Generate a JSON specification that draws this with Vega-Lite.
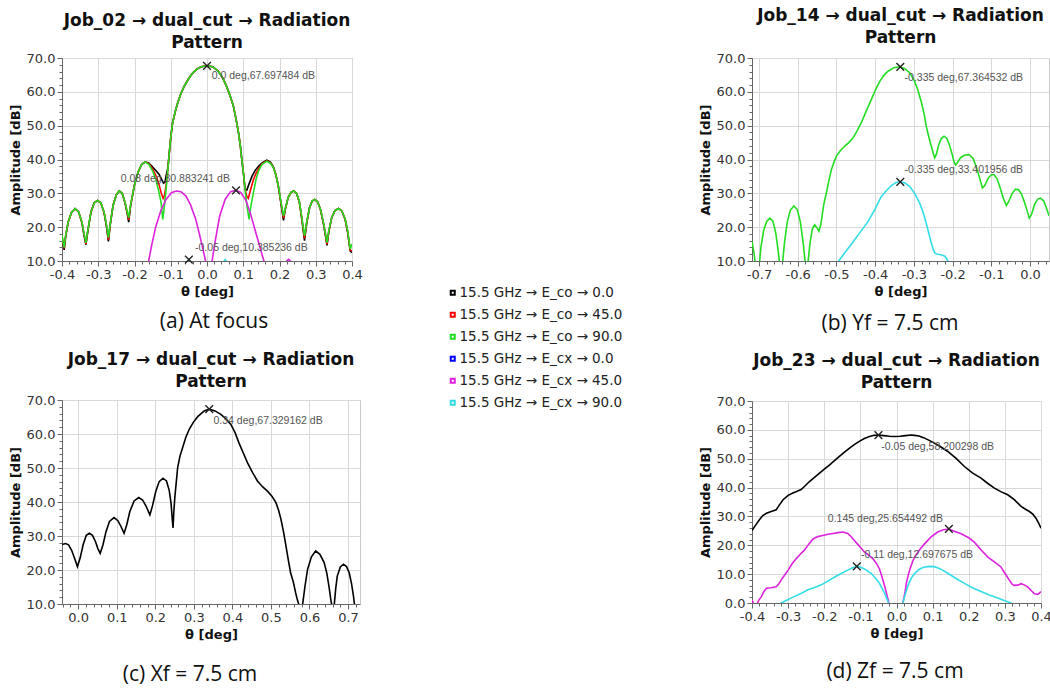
{
"$schema": "https://vega.github.io/schema/vega-lite/v6.json",
"background": "white",
"padding": {"left": 8, "top": 6, "right": 0, "bottom": 0},
"datasets": {
"a": [
{"s":"co0","t":-0.4,"v":17.2},{"s":"co0","t":-0.397,"v":15},{"s":"co0","t":-0.394,"v":13.3},{"s":"co0","t":-0.39,"v":17.2},{"s":"co0","t":-0.383,"v":21.5},{"s":"co0","t":-0.374,"v":24.3},{"s":"co0","t":-0.364,"v":25.5},{"s":"co0","t":-0.354,"v":24.5},{"s":"co0","t":-0.345,"v":21.3},{"s":"co0","t":-0.339,"v":17.5},{"s":"co0","t":-0.334,"v":14.8},{"s":"co0","t":-0.329,"v":18.7},{"s":"co0","t":-0.32,"v":24.5},{"s":"co0","t":-0.311,"v":27.2},{"s":"co0","t":-0.302,"v":27.9},{"s":"co0","t":-0.293,"v":27.2},{"s":"co0","t":-0.284,"v":24.3},{"s":"co0","t":-0.277,"v":20},{"s":"co0","t":-0.272,"v":15.8},{"s":"co0","t":-0.267,"v":20.7},{"s":"co0","t":-0.259,"v":26.5},{"s":"co0","t":-0.25,"v":29.6},{"s":"co0","t":-0.242,"v":30.7},{"s":"co0","t":-0.234,"v":30},{"s":"co0","t":-0.226,"v":27.1},{"s":"co0","t":-0.22,"v":24},{"s":"co0","t":-0.216,"v":21.5},{"s":"co0","t":-0.211,"v":26.2},{"s":"co0","t":-0.2,"v":32.5},{"s":"co0","t":-0.19,"v":36.3},{"s":"co0","t":-0.18,"v":38.6},{"s":"co0","t":-0.17,"v":39.3},{"s":"co0","t":-0.16,"v":38.9},{"s":"co0","t":-0.15,"v":37.8},{"s":"co0","t":-0.14,"v":36.6},{"s":"co0","t":-0.132,"v":35.6},{"s":"co0","t":-0.126,"v":34.3},{"s":"co0","t":-0.12,"v":33},{"s":"co0","t":-0.116,"v":33.3},{"s":"co0","t":-0.112,"v":35.5},{"s":"co0","t":-0.108,"v":37.5},{"s":"co0","t":-0.104,"v":42},{"s":"co0","t":-0.1,"v":46.5},{"s":"co0","t":-0.095,"v":50.8},{"s":"co0","t":-0.088,"v":54},{"s":"co0","t":-0.081,"v":56.7},{"s":"co0","t":-0.072,"v":59.5},{"s":"co0","t":-0.062,"v":61.8},{"s":"co0","t":-0.05,"v":64},{"s":"co0","t":-0.039,"v":65.6},{"s":"co0","t":-0.027,"v":66.8},{"s":"co0","t":-0.016,"v":67.4},{"s":"co0","t":0,"v":67.7},{"s":"co0","t":0.016,"v":67.4},{"s":"co0","t":0.031,"v":66.1},{"s":"co0","t":0.043,"v":64.2},{"s":"co0","t":0.054,"v":61.6},{"s":"co0","t":0.064,"v":58.8},{"s":"co0","t":0.073,"v":55.7},{"s":"co0","t":0.08,"v":52},{"s":"co0","t":0.087,"v":47.9},{"s":"co0","t":0.092,"v":44},{"s":"co0","t":0.096,"v":40},{"s":"co0","t":0.101,"v":35.5},{"s":"co0","t":0.105,"v":31.2},{"s":"co0","t":0.11,"v":31},{"s":"co0","t":0.115,"v":32.5},{"s":"co0","t":0.124,"v":35},{"s":"co0","t":0.133,"v":36.8},{"s":"co0","t":0.142,"v":38},{"s":"co0","t":0.152,"v":39},{"s":"co0","t":0.165,"v":39.8},{"s":"co0","t":0.175,"v":39.2},{"s":"co0","t":0.183,"v":37.8},{"s":"co0","t":0.19,"v":35.5},{"s":"co0","t":0.197,"v":32},{"s":"co0","t":0.204,"v":27},{"s":"co0","t":0.211,"v":22},{"s":"co0","t":0.216,"v":25.3},{"s":"co0","t":0.224,"v":28.8},{"s":"co0","t":0.232,"v":30.3},{"s":"co0","t":0.239,"v":30.7},{"s":"co0","t":0.247,"v":30},{"s":"co0","t":0.255,"v":27.3},{"s":"co0","t":0.262,"v":22},{"s":"co0","t":0.269,"v":16},{"s":"co0","t":0.275,"v":21.2},{"s":"co0","t":0.283,"v":25.8},{"s":"co0","t":0.29,"v":27.7},{"s":"co0","t":0.297,"v":28.2},{"s":"co0","t":0.305,"v":27.5},{"s":"co0","t":0.313,"v":25.2},{"s":"co0","t":0.321,"v":21.2},{"s":"co0","t":0.326,"v":18},{"s":"co0","t":0.331,"v":14.6},{"s":"co0","t":0.336,"v":18.6},{"s":"co0","t":0.344,"v":22.8},{"s":"co0","t":0.353,"v":24.9},{"s":"co0","t":0.363,"v":25.5},{"s":"co0","t":0.372,"v":24.8},{"s":"co0","t":0.381,"v":22.3},{"s":"co0","t":0.388,"v":18.5},{"s":"co0","t":0.395,"v":13},{"s":"co0","t":0.4,"v":12.5},
{"s":"co45","t":-0.4,"v":17.4},{"s":"co45","t":-0.397,"v":15.2},{"s":"co45","t":-0.394,"v":13.7},{"s":"co45","t":-0.39,"v":17.3},{"s":"co45","t":-0.383,"v":21.5},{"s":"co45","t":-0.374,"v":24.3},{"s":"co45","t":-0.364,"v":25.5},{"s":"co45","t":-0.354,"v":24.5},{"s":"co45","t":-0.345,"v":21.4},{"s":"co45","t":-0.339,"v":17.8},{"s":"co45","t":-0.334,"v":15},{"s":"co45","t":-0.329,"v":18.8},{"s":"co45","t":-0.32,"v":24.5},{"s":"co45","t":-0.311,"v":27.2},{"s":"co45","t":-0.302,"v":27.9},{"s":"co45","t":-0.293,"v":27.2},{"s":"co45","t":-0.284,"v":24.4},{"s":"co45","t":-0.277,"v":20.3},{"s":"co45","t":-0.272,"v":16.3},{"s":"co45","t":-0.267,"v":20.8},{"s":"co45","t":-0.259,"v":26.5},{"s":"co45","t":-0.25,"v":29.6},{"s":"co45","t":-0.242,"v":30.7},{"s":"co45","t":-0.234,"v":30},{"s":"co45","t":-0.226,"v":27.2},{"s":"co45","t":-0.22,"v":24.3},{"s":"co45","t":-0.216,"v":22.2},{"s":"co45","t":-0.211,"v":26.3},{"s":"co45","t":-0.2,"v":32.5},{"s":"co45","t":-0.19,"v":36.3},{"s":"co45","t":-0.18,"v":38.6},{"s":"co45","t":-0.17,"v":39.3},{"s":"co45","t":-0.16,"v":38.7},{"s":"co45","t":-0.15,"v":37.2},{"s":"co45","t":-0.14,"v":35},{"s":"co45","t":-0.132,"v":32.5},{"s":"co45","t":-0.126,"v":30},{"s":"co45","t":-0.121,"v":28.5},{"s":"co45","t":-0.117,"v":29.5},{"s":"co45","t":-0.112,"v":33},{"s":"co45","t":-0.108,"v":37},{"s":"co45","t":-0.104,"v":42},{"s":"co45","t":-0.1,"v":46.5},{"s":"co45","t":-0.095,"v":50.8},{"s":"co45","t":-0.088,"v":54},{"s":"co45","t":-0.081,"v":56.7},{"s":"co45","t":-0.072,"v":59.5},{"s":"co45","t":-0.062,"v":61.8},{"s":"co45","t":-0.05,"v":64},{"s":"co45","t":-0.039,"v":65.6},{"s":"co45","t":-0.027,"v":66.8},{"s":"co45","t":-0.016,"v":67.4},{"s":"co45","t":0,"v":67.7},{"s":"co45","t":0.016,"v":67.4},{"s":"co45","t":0.031,"v":66.1},{"s":"co45","t":0.043,"v":64.2},{"s":"co45","t":0.054,"v":61.6},{"s":"co45","t":0.064,"v":58.8},{"s":"co45","t":0.073,"v":55.7},{"s":"co45","t":0.08,"v":52},{"s":"co45","t":0.087,"v":47.9},{"s":"co45","t":0.092,"v":44},{"s":"co45","t":0.096,"v":40},{"s":"co45","t":0.101,"v":35.5},{"s":"co45","t":0.105,"v":31.2},{"s":"co45","t":0.11,"v":29},{"s":"co45","t":0.114,"v":28.5},{"s":"co45","t":0.12,"v":31},{"s":"co45","t":0.128,"v":34},{"s":"co45","t":0.135,"v":35.8},{"s":"co45","t":0.142,"v":37.2},{"s":"co45","t":0.152,"v":38.8},{"s":"co45","t":0.165,"v":39.6},{"s":"co45","t":0.175,"v":39},{"s":"co45","t":0.183,"v":37.7},{"s":"co45","t":0.19,"v":35.5},{"s":"co45","t":0.197,"v":32},{"s":"co45","t":0.204,"v":27.2},{"s":"co45","t":0.211,"v":22.7},{"s":"co45","t":0.216,"v":25.4},{"s":"co45","t":0.224,"v":28.8},{"s":"co45","t":0.232,"v":30.3},{"s":"co45","t":0.239,"v":30.7},{"s":"co45","t":0.247,"v":30},{"s":"co45","t":0.255,"v":27.4},{"s":"co45","t":0.262,"v":22.2},{"s":"co45","t":0.269,"v":16.7},{"s":"co45","t":0.275,"v":21.3},{"s":"co45","t":0.283,"v":25.8},{"s":"co45","t":0.29,"v":27.7},{"s":"co45","t":0.297,"v":28.2},{"s":"co45","t":0.305,"v":27.5},{"s":"co45","t":0.313,"v":25.2},{"s":"co45","t":0.321,"v":21.3},{"s":"co45","t":0.326,"v":18.2},{"s":"co45","t":0.331,"v":15},{"s":"co45","t":0.336,"v":18.8},{"s":"co45","t":0.344,"v":22.8},{"s":"co45","t":0.353,"v":24.9},{"s":"co45","t":0.363,"v":25.5},{"s":"co45","t":0.372,"v":24.8},{"s":"co45","t":0.381,"v":22.4},{"s":"co45","t":0.388,"v":18.7},{"s":"co45","t":0.395,"v":13.2},{"s":"co45","t":0.4,"v":13},
{"s":"co90","t":-0.4,"v":17.6},{"s":"co90","t":-0.397,"v":15.5},{"s":"co90","t":-0.394,"v":14},{"s":"co90","t":-0.39,"v":17.5},{"s":"co90","t":-0.383,"v":21.5},{"s":"co90","t":-0.374,"v":24.3},{"s":"co90","t":-0.364,"v":25.5},{"s":"co90","t":-0.354,"v":24.5},{"s":"co90","t":-0.345,"v":21.5},{"s":"co90","t":-0.339,"v":18},{"s":"co90","t":-0.334,"v":15.4},{"s":"co90","t":-0.329,"v":19},{"s":"co90","t":-0.32,"v":24.5},{"s":"co90","t":-0.311,"v":27.2},{"s":"co90","t":-0.302,"v":27.9},{"s":"co90","t":-0.293,"v":27.2},{"s":"co90","t":-0.284,"v":24.5},{"s":"co90","t":-0.277,"v":20.5},{"s":"co90","t":-0.272,"v":16.9},{"s":"co90","t":-0.267,"v":21},{"s":"co90","t":-0.259,"v":26.5},{"s":"co90","t":-0.25,"v":29.6},{"s":"co90","t":-0.242,"v":30.7},{"s":"co90","t":-0.234,"v":30},{"s":"co90","t":-0.226,"v":27.3},{"s":"co90","t":-0.22,"v":24.5},{"s":"co90","t":-0.216,"v":22.8},{"s":"co90","t":-0.211,"v":26.5},{"s":"co90","t":-0.2,"v":32.5},{"s":"co90","t":-0.19,"v":36.3},{"s":"co90","t":-0.18,"v":38.6},{"s":"co90","t":-0.17,"v":39.3},{"s":"co90","t":-0.16,"v":38.5},{"s":"co90","t":-0.15,"v":36.6},{"s":"co90","t":-0.141,"v":34},{"s":"co90","t":-0.133,"v":30.5},{"s":"co90","t":-0.127,"v":27.5},{"s":"co90","t":-0.122,"v":22.3},{"s":"co90","t":-0.118,"v":26},{"s":"co90","t":-0.113,"v":31},{"s":"co90","t":-0.108,"v":37},{"s":"co90","t":-0.104,"v":42},{"s":"co90","t":-0.1,"v":46.5},{"s":"co90","t":-0.095,"v":50.8},{"s":"co90","t":-0.088,"v":54},{"s":"co90","t":-0.081,"v":56.7},{"s":"co90","t":-0.072,"v":59.5},{"s":"co90","t":-0.062,"v":61.8},{"s":"co90","t":-0.05,"v":64},{"s":"co90","t":-0.039,"v":65.6},{"s":"co90","t":-0.027,"v":66.8},{"s":"co90","t":-0.016,"v":67.4},{"s":"co90","t":0,"v":67.7},{"s":"co90","t":0.016,"v":67.4},{"s":"co90","t":0.031,"v":66.1},{"s":"co90","t":0.043,"v":64.2},{"s":"co90","t":0.054,"v":61.6},{"s":"co90","t":0.064,"v":58.8},{"s":"co90","t":0.073,"v":55.7},{"s":"co90","t":0.08,"v":52},{"s":"co90","t":0.087,"v":47.9},{"s":"co90","t":0.092,"v":44},{"s":"co90","t":0.096,"v":40},{"s":"co90","t":0.101,"v":35.5},{"s":"co90","t":0.105,"v":31.2},{"s":"co90","t":0.11,"v":26.5},{"s":"co90","t":0.116,"v":22.3},{"s":"co90","t":0.12,"v":25.5},{"s":"co90","t":0.128,"v":30.2},{"s":"co90","t":0.135,"v":34},{"s":"co90","t":0.142,"v":36.6},{"s":"co90","t":0.152,"v":38.6},{"s":"co90","t":0.165,"v":39.5},{"s":"co90","t":0.175,"v":38.9},{"s":"co90","t":0.183,"v":37.6},{"s":"co90","t":0.19,"v":35.5},{"s":"co90","t":0.197,"v":32.1},{"s":"co90","t":0.204,"v":27.5},{"s":"co90","t":0.211,"v":23.3},{"s":"co90","t":0.216,"v":25.5},{"s":"co90","t":0.224,"v":28.8},{"s":"co90","t":0.232,"v":30.3},{"s":"co90","t":0.239,"v":30.7},{"s":"co90","t":0.247,"v":30},{"s":"co90","t":0.255,"v":27.5},{"s":"co90","t":0.262,"v":22.5},{"s":"co90","t":0.269,"v":17.4},{"s":"co90","t":0.275,"v":21.5},{"s":"co90","t":0.283,"v":25.8},{"s":"co90","t":0.29,"v":27.7},{"s":"co90","t":0.297,"v":28.2},{"s":"co90","t":0.305,"v":27.5},{"s":"co90","t":0.313,"v":25.3},{"s":"co90","t":0.321,"v":21.5},{"s":"co90","t":0.326,"v":18.5},{"s":"co90","t":0.331,"v":15.4},{"s":"co90","t":0.336,"v":19},{"s":"co90","t":0.344,"v":22.8},{"s":"co90","t":0.353,"v":24.9},{"s":"co90","t":0.363,"v":25.5},{"s":"co90","t":0.372,"v":24.8},{"s":"co90","t":0.381,"v":22.5},{"s":"co90","t":0.388,"v":19},{"s":"co90","t":0.395,"v":13.5},{"s":"co90","t":0.4,"v":15},
{"s":"cx45","t":-0.2,"v":-5},{"s":"cx45","t":-0.175,"v":3},{"s":"cx45","t":-0.161,"v":10},{"s":"cx45","t":-0.152,"v":15},{"s":"cx45","t":-0.141,"v":20.3},{"s":"cx45","t":-0.127,"v":25},{"s":"cx45","t":-0.113,"v":28.2},{"s":"cx45","t":-0.098,"v":30.2},{"s":"cx45","t":-0.085,"v":30.7},{"s":"cx45","t":-0.072,"v":30.5},{"s":"cx45","t":-0.058,"v":29.2},{"s":"cx45","t":-0.045,"v":26.5},{"s":"cx45","t":-0.031,"v":22.3},{"s":"cx45","t":-0.021,"v":18},{"s":"cx45","t":-0.013,"v":14.4},{"s":"cx45","t":-0.004,"v":10},{"s":"cx45","t":0.005,"v":3},{"s":"cx45","t":0.014,"v":10},{"s":"cx45","t":0.022,"v":15.5},{"s":"cx45","t":0.035,"v":23.3},{"s":"cx45","t":0.05,"v":28.2},{"s":"cx45","t":0.065,"v":30.5},{"s":"cx45","t":0.079,"v":30.9},{"s":"cx45","t":0.093,"v":30.3},{"s":"cx45","t":0.107,"v":28},{"s":"cx45","t":0.12,"v":24},{"s":"cx45","t":0.133,"v":19},{"s":"cx45","t":0.145,"v":14.5},{"s":"cx45","t":0.157,"v":10},{"s":"cx45","t":0.17,"v":3},{"s":"cx45","t":0.19,"v":2},{"s":"cx45","t":0.205,"v":6},{"s":"cx45","t":0.215,"v":9.5},{"s":"cx45","t":0.225,"v":10.5},{"s":"cx45","t":0.235,"v":9.5},{"s":"cx45","t":0.25,"v":5},
{"s":"cx90","t":-0.09,"v":0},{"s":"cx90","t":-0.075,"v":5},{"s":"cx90","t":-0.063,"v":8.5},{"s":"cx90","t":-0.05,"v":10.4},{"s":"cx90","t":-0.037,"v":8.5},{"s":"cx90","t":-0.025,"v":5},{"s":"cx90","t":-0.01,"v":0},{"s":"cx90","t":0.01,"v":0},{"s":"cx90","t":0.025,"v":5},{"s":"cx90","t":0.037,"v":8.5},{"s":"cx90","t":0.05,"v":10.4},{"s":"cx90","t":0.063,"v":8.5},{"s":"cx90","t":0.075,"v":5},{"s":"cx90","t":0.09,"v":0}
],
"am": [{"t":0,"v":67.697},{"t":0.08,"v":30.883},{"t":-0.05,"v":10.385}],
"al": [{"t":0.013,"v":64.7,"label":"0.0 deg,67.697484 dB"},{"t":-0.238,"v":34.3,"label":"0.08 deg,30.883241 dB"},{"t":-0.033,"v":13.8,"label":"-0.05 deg,10.385236 dB"}],
"b": [
{"s":"co90","t":-0.718,"v":15.8},{"s":"co90","t":-0.713,"v":12.5},{"s":"co90","t":-0.709,"v":9},{"s":"co90","t":-0.704,"v":-5},{"s":"co90","t":-0.699,"v":9},{"s":"co90","t":-0.695,"v":14},{"s":"co90","t":-0.688,"v":19},{"s":"co90","t":-0.68,"v":21.7},{"s":"co90","t":-0.672,"v":22.7},{"s":"co90","t":-0.664,"v":21.8},{"s":"co90","t":-0.657,"v":18.5},{"s":"co90","t":-0.651,"v":13.5},{"s":"co90","t":-0.647,"v":9.5},{"s":"co90","t":-0.643,"v":-5},{"s":"co90","t":-0.639,"v":9.5},{"s":"co90","t":-0.634,"v":15.5},{"s":"co90","t":-0.627,"v":21.5},{"s":"co90","t":-0.619,"v":25},{"s":"co90","t":-0.61,"v":26.3},{"s":"co90","t":-0.601,"v":25.2},{"s":"co90","t":-0.593,"v":21.5},{"s":"co90","t":-0.586,"v":15.5},{"s":"co90","t":-0.581,"v":10},{"s":"co90","t":-0.577,"v":-5},{"s":"co90","t":-0.573,"v":10},{"s":"co90","t":-0.568,"v":15.5},{"s":"co90","t":-0.562,"v":19.5},{"s":"co90","t":-0.556,"v":20.7},{"s":"co90","t":-0.55,"v":19.8},{"s":"co90","t":-0.545,"v":18.8},{"s":"co90","t":-0.54,"v":21},{"s":"co90","t":-0.533,"v":26.5},{"s":"co90","t":-0.526,"v":30.1},{"s":"co90","t":-0.519,"v":34},{"s":"co90","t":-0.513,"v":37},{"s":"co90","t":-0.506,"v":39.3},{"s":"co90","t":-0.5,"v":41},{"s":"co90","t":-0.49,"v":42.6},{"s":"co90","t":-0.479,"v":43.9},{"s":"co90","t":-0.468,"v":45},{"s":"co90","t":-0.457,"v":46.4},{"s":"co90","t":-0.447,"v":48.4},{"s":"co90","t":-0.436,"v":50.8},{"s":"co90","t":-0.423,"v":54.3},{"s":"co90","t":-0.41,"v":57.7},{"s":"co90","t":-0.399,"v":60.6},{"s":"co90","t":-0.388,"v":63.1},{"s":"co90","t":-0.378,"v":64.8},{"s":"co90","t":-0.367,"v":66.1},{"s":"co90","t":-0.352,"v":67.1},{"s":"co90","t":-0.336,"v":67.4},{"s":"co90","t":-0.322,"v":66.8},{"s":"co90","t":-0.31,"v":65.5},{"s":"co90","t":-0.3,"v":63.6},{"s":"co90","t":-0.29,"v":60.7},{"s":"co90","t":-0.28,"v":56.7},{"s":"co90","t":-0.273,"v":53.2},{"s":"co90","t":-0.268,"v":49.8},{"s":"co90","t":-0.261,"v":46.5},{"s":"co90","t":-0.255,"v":43.9},{"s":"co90","t":-0.249,"v":41.5},{"s":"co90","t":-0.246,"v":40.5},{"s":"co90","t":-0.242,"v":41.5},{"s":"co90","t":-0.236,"v":44.3},{"s":"co90","t":-0.229,"v":46.2},{"s":"co90","t":-0.222,"v":46.9},{"s":"co90","t":-0.215,"v":46.3},{"s":"co90","t":-0.208,"v":44.3},{"s":"co90","t":-0.201,"v":41.5},{"s":"co90","t":-0.196,"v":39.2},{"s":"co90","t":-0.192,"v":38.4},{"s":"co90","t":-0.187,"v":39.2},{"s":"co90","t":-0.179,"v":40.6},{"s":"co90","t":-0.168,"v":41.3},{"s":"co90","t":-0.157,"v":41.4},{"s":"co90","t":-0.147,"v":40.3},{"s":"co90","t":-0.138,"v":37.5},{"s":"co90","t":-0.13,"v":34.5},{"s":"co90","t":-0.123,"v":31.6},{"s":"co90","t":-0.117,"v":32.3},{"s":"co90","t":-0.108,"v":34.5},{"s":"co90","t":-0.1,"v":35.5},{"s":"co90","t":-0.093,"v":35.5},{"s":"co90","t":-0.085,"v":34.3},{"s":"co90","t":-0.077,"v":31.6},{"s":"co90","t":-0.069,"v":28.5},{"s":"co90","t":-0.061,"v":26.4},{"s":"co90","t":-0.055,"v":27.6},{"s":"co90","t":-0.046,"v":30},{"s":"co90","t":-0.038,"v":31.2},{"s":"co90","t":-0.03,"v":31.1},{"s":"co90","t":-0.022,"v":29.8},{"s":"co90","t":-0.014,"v":27.3},{"s":"co90","t":-0.006,"v":24.3},{"s":"co90","t":-0.002,"v":22.7},{"s":"co90","t":0.004,"v":23.8},{"s":"co90","t":0.012,"v":26.8},{"s":"co90","t":0.02,"v":28.3},{"s":"co90","t":0.027,"v":28.6},{"s":"co90","t":0.035,"v":27.8},{"s":"co90","t":0.042,"v":25.8},{"s":"co90","t":0.049,"v":23.4},
{"s":"cx90","t":-0.5,"v":9},{"s":"cx90","t":-0.494,"v":10},{"s":"cx90","t":-0.48,"v":12.2},{"s":"cx90","t":-0.466,"v":14.3},{"s":"cx90","t":-0.453,"v":16.3},{"s":"cx90","t":-0.436,"v":18.9},{"s":"cx90","t":-0.418,"v":21.7},{"s":"cx90","t":-0.4,"v":25.4},{"s":"cx90","t":-0.384,"v":29.1},{"s":"cx90","t":-0.37,"v":30.9},{"s":"cx90","t":-0.358,"v":32.3},{"s":"cx90","t":-0.346,"v":33.2},{"s":"cx90","t":-0.336,"v":33.4},{"s":"cx90","t":-0.324,"v":33.1},{"s":"cx90","t":-0.311,"v":32.1},{"s":"cx90","t":-0.298,"v":30},{"s":"cx90","t":-0.285,"v":27.1},{"s":"cx90","t":-0.276,"v":24.3},{"s":"cx90","t":-0.268,"v":21.2},{"s":"cx90","t":-0.261,"v":18},{"s":"cx90","t":-0.255,"v":15.3},{"s":"cx90","t":-0.25,"v":13.5},{"s":"cx90","t":-0.246,"v":12.4},{"s":"cx90","t":-0.24,"v":12},{"s":"cx90","t":-0.233,"v":11.9},{"s":"cx90","t":-0.226,"v":11.7},{"s":"cx90","t":-0.22,"v":11.4},{"s":"cx90","t":-0.215,"v":10.6},{"s":"cx90","t":-0.212,"v":10},{"s":"cx90","t":-0.208,"v":8}
],
"bm": [{"t":-0.335,"v":67.365},{"t":-0.335,"v":33.402}],
"bl": [{"t":-0.324,"v":64.1,"label":"-0.335 deg,67.364532 dB"},{"t":-0.324,"v":36.8,"label":"-0.335 deg,33.401956 dB"}],
"c": [
{"s":"co0","t":-0.042,"v":27.5},{"s":"co0","t":-0.033,"v":27.8},{"s":"co0","t":-0.025,"v":27.4},{"s":"co0","t":-0.017,"v":25.8},{"s":"co0","t":-0.009,"v":23.3},{"s":"co0","t":-0.002,"v":21},{"s":"co0","t":0.005,"v":23.5},{"s":"co0","t":0.013,"v":27.5},{"s":"co0","t":0.021,"v":30.2},{"s":"co0","t":0.029,"v":30.8},{"s":"co0","t":0.037,"v":30.2},{"s":"co0","t":0.045,"v":28.3},{"s":"co0","t":0.051,"v":26.3},{"s":"co0","t":0.057,"v":24.9},{"s":"co0","t":0.064,"v":27.3},{"s":"co0","t":0.072,"v":31.2},{"s":"co0","t":0.081,"v":34.3},{"s":"co0","t":0.093,"v":35.4},{"s":"co0","t":0.103,"v":34.5},{"s":"co0","t":0.111,"v":32.8},{"s":"co0","t":0.119,"v":30.8},{"s":"co0","t":0.126,"v":33.3},{"s":"co0","t":0.134,"v":37.2},{"s":"co0","t":0.145,"v":40.3},{"s":"co0","t":0.157,"v":41.3},{"s":"co0","t":0.167,"v":40.6},{"s":"co0","t":0.176,"v":38.8},{"s":"co0","t":0.186,"v":36.2},{"s":"co0","t":0.193,"v":39},{"s":"co0","t":0.201,"v":43},{"s":"co0","t":0.21,"v":46},{"s":"co0","t":0.22,"v":47},{"s":"co0","t":0.229,"v":46.2},{"s":"co0","t":0.236,"v":43.5},{"s":"co0","t":0.241,"v":39.5},{"s":"co0","t":0.244,"v":35},{"s":"co0","t":0.246,"v":32.4},{"s":"co0","t":0.248,"v":37},{"s":"co0","t":0.251,"v":41.8},{"s":"co0","t":0.258,"v":50.1},{"s":"co0","t":0.264,"v":53.5},{"s":"co0","t":0.271,"v":56},{"s":"co0","t":0.279,"v":59},{"s":"co0","t":0.288,"v":61.4},{"s":"co0","t":0.299,"v":63.5},{"s":"co0","t":0.31,"v":65.1},{"s":"co0","t":0.327,"v":66.8},{"s":"co0","t":0.34,"v":67.3},{"s":"co0","t":0.355,"v":66.8},{"s":"co0","t":0.37,"v":65.8},{"s":"co0","t":0.383,"v":64.5},{"s":"co0","t":0.396,"v":62.8},{"s":"co0","t":0.407,"v":60.4},{"s":"co0","t":0.417,"v":57.4},{"s":"co0","t":0.428,"v":54.5},{"s":"co0","t":0.439,"v":51.6},{"s":"co0","t":0.452,"v":48.7},{"s":"co0","t":0.465,"v":46.2},{"s":"co0","t":0.478,"v":44.5},{"s":"co0","t":0.491,"v":43.2},{"s":"co0","t":0.503,"v":41.6},{"s":"co0","t":0.513,"v":39.8},{"s":"co0","t":0.52,"v":37.5},{"s":"co0","t":0.526,"v":34.9},{"s":"co0","t":0.533,"v":31},{"s":"co0","t":0.539,"v":27},{"s":"co0","t":0.545,"v":23},{"s":"co0","t":0.551,"v":19.2},{"s":"co0","t":0.558,"v":16.5},{"s":"co0","t":0.564,"v":13.3},{"s":"co0","t":0.569,"v":11},{"s":"co0","t":0.573,"v":9.7},{"s":"co0","t":0.577,"v":-5},{"s":"co0","t":0.582,"v":9.7},{"s":"co0","t":0.588,"v":15},{"s":"co0","t":0.595,"v":20.2},{"s":"co0","t":0.605,"v":23.9},{"s":"co0","t":0.616,"v":25.6},{"s":"co0","t":0.627,"v":24.6},{"s":"co0","t":0.638,"v":22.2},{"s":"co0","t":0.645,"v":19},{"s":"co0","t":0.651,"v":14.8},{"s":"co0","t":0.655,"v":11.5},{"s":"co0","t":0.658,"v":9.5},{"s":"co0","t":0.661,"v":-5},{"s":"co0","t":0.664,"v":9.5},{"s":"co0","t":0.668,"v":14.5},{"s":"co0","t":0.672,"v":18.2},{"s":"co0","t":0.68,"v":20.9},{"s":"co0","t":0.688,"v":21.7},{"s":"co0","t":0.696,"v":21},{"s":"co0","t":0.703,"v":19.2},{"s":"co0","t":0.709,"v":16},{"s":"co0","t":0.714,"v":12.4},{"s":"co0","t":0.717,"v":9.5},{"s":"co0","t":0.72,"v":-5}
],
"cm": [{"t":0.34,"v":67.329}],
"cl": [{"t":0.351,"v":63.8,"label":"0.34 deg,67.329162 dB"}],
"d": [
{"s":"co0","t":-0.4,"v":25.1},{"s":"co0","t":-0.39,"v":27},{"s":"co0","t":-0.379,"v":28.9},{"s":"co0","t":-0.37,"v":30.3},{"s":"co0","t":-0.36,"v":31.1},{"s":"co0","t":-0.347,"v":31.7},{"s":"co0","t":-0.333,"v":32.3},{"s":"co0","t":-0.324,"v":34},{"s":"co0","t":-0.314,"v":35.8},{"s":"co0","t":-0.3,"v":37.3},{"s":"co0","t":-0.287,"v":38.1},{"s":"co0","t":-0.275,"v":38.7},{"s":"co0","t":-0.264,"v":39.3},{"s":"co0","t":-0.252,"v":40.7},{"s":"co0","t":-0.241,"v":42.1},{"s":"co0","t":-0.227,"v":43.5},{"s":"co0","t":-0.213,"v":45},{"s":"co0","t":-0.199,"v":46.5},{"s":"co0","t":-0.185,"v":47.9},{"s":"co0","t":-0.171,"v":49.4},{"s":"co0","t":-0.158,"v":50.8},{"s":"co0","t":-0.144,"v":52.3},{"s":"co0","t":-0.13,"v":53.7},{"s":"co0","t":-0.117,"v":54.9},{"s":"co0","t":-0.103,"v":56},{"s":"co0","t":-0.089,"v":57},{"s":"co0","t":-0.075,"v":57.7},{"s":"co0","t":-0.062,"v":58.1},{"s":"co0","t":-0.05,"v":58.2},{"s":"co0","t":-0.035,"v":58},{"s":"co0","t":-0.02,"v":57.8},{"s":"co0","t":-0.006,"v":57.7},{"s":"co0","t":0.01,"v":57.8},{"s":"co0","t":0.025,"v":58},{"s":"co0","t":0.04,"v":58.2},{"s":"co0","t":0.05,"v":58.1},{"s":"co0","t":0.062,"v":57.9},{"s":"co0","t":0.075,"v":57.3},{"s":"co0","t":0.096,"v":56},{"s":"co0","t":0.12,"v":54.3},{"s":"co0","t":0.142,"v":52.5},{"s":"co0","t":0.165,"v":50.1},{"s":"co0","t":0.188,"v":47.3},{"s":"co0","t":0.21,"v":45.1},{"s":"co0","t":0.234,"v":43.3},{"s":"co0","t":0.252,"v":41.5},{"s":"co0","t":0.271,"v":39.8},{"s":"co0","t":0.29,"v":38.5},{"s":"co0","t":0.308,"v":37.5},{"s":"co0","t":0.326,"v":35.8},{"s":"co0","t":0.345,"v":33.5},{"s":"co0","t":0.357,"v":32.5},{"s":"co0","t":0.368,"v":31.7},{"s":"co0","t":0.378,"v":30.7},{"s":"co0","t":0.386,"v":29.4},{"s":"co0","t":0.393,"v":27.8},{"s":"co0","t":0.4,"v":25.9},
{"s":"cx45","t":-0.4,"v":1},{"s":"cx45","t":-0.394,"v":-0.5},{"s":"cx45","t":-0.388,"v":-0.7},{"s":"cx45","t":-0.381,"v":1},{"s":"cx45","t":-0.374,"v":2.2},{"s":"cx45","t":-0.367,"v":4},{"s":"cx45","t":-0.36,"v":5.1},{"s":"cx45","t":-0.347,"v":5.3},{"s":"cx45","t":-0.333,"v":5.6},{"s":"cx45","t":-0.326,"v":6.6},{"s":"cx45","t":-0.319,"v":8},{"s":"cx45","t":-0.31,"v":9.6},{"s":"cx45","t":-0.3,"v":11.4},{"s":"cx45","t":-0.289,"v":13.6},{"s":"cx45","t":-0.278,"v":15.3},{"s":"cx45","t":-0.267,"v":16.8},{"s":"cx45","t":-0.255,"v":18.3},{"s":"cx45","t":-0.243,"v":20.4},{"s":"cx45","t":-0.231,"v":22.2},{"s":"cx45","t":-0.218,"v":23},{"s":"cx45","t":-0.204,"v":23.4},{"s":"cx45","t":-0.19,"v":23.8},{"s":"cx45","t":-0.176,"v":24.1},{"s":"cx45","t":-0.162,"v":24.4},{"s":"cx45","t":-0.148,"v":24.6},{"s":"cx45","t":-0.135,"v":24.1},{"s":"cx45","t":-0.124,"v":22.8},{"s":"cx45","t":-0.112,"v":21},{"s":"cx45","t":-0.1,"v":19.3},{"s":"cx45","t":-0.089,"v":17.7},{"s":"cx45","t":-0.077,"v":16.6},{"s":"cx45","t":-0.065,"v":15.3},{"s":"cx45","t":-0.056,"v":13.8},{"s":"cx45","t":-0.047,"v":11.8},{"s":"cx45","t":-0.04,"v":9},{"s":"cx45","t":-0.033,"v":6},{"s":"cx45","t":-0.028,"v":3.5},{"s":"cx45","t":-0.024,"v":1.5},{"s":"cx45","t":-0.019,"v":-1},{"s":"cx45","t":0,"v":-15},{"s":"cx45","t":0.016,"v":-1},{"s":"cx45","t":0.02,"v":1.5},{"s":"cx45","t":0.024,"v":4},{"s":"cx45","t":0.027,"v":6.7},{"s":"cx45","t":0.032,"v":9.5},{"s":"cx45","t":0.038,"v":12},{"s":"cx45","t":0.044,"v":14.2},{"s":"cx45","t":0.05,"v":15.9},{"s":"cx45","t":0.065,"v":18.6},{"s":"cx45","t":0.077,"v":20.4},{"s":"cx45","t":0.095,"v":22.8},{"s":"cx45","t":0.114,"v":24.6},{"s":"cx45","t":0.13,"v":25.4},{"s":"cx45","t":0.145,"v":25.65},{"s":"cx45","t":0.16,"v":24.9},{"s":"cx45","t":0.179,"v":24},{"s":"cx45","t":0.2,"v":22.6},{"s":"cx45","t":0.216,"v":21},{"s":"cx45","t":0.235,"v":18.3},{"s":"cx45","t":0.253,"v":15.9},{"s":"cx45","t":0.27,"v":14.3},{"s":"cx45","t":0.289,"v":12.5},{"s":"cx45","t":0.3,"v":10.3},{"s":"cx45","t":0.312,"v":8},{"s":"cx45","t":0.32,"v":6.5},{"s":"cx45","t":0.326,"v":6.1},{"s":"cx45","t":0.336,"v":6.2},{"s":"cx45","t":0.345,"v":6.7},{"s":"cx45","t":0.355,"v":6.2},{"s":"cx45","t":0.363,"v":5.6},{"s":"cx45","t":0.372,"v":4.4},{"s":"cx45","t":0.382,"v":3.2},{"s":"cx45","t":0.391,"v":3},{"s":"cx45","t":0.4,"v":3.9},
{"s":"cx90","t":-0.33,"v":-1},{"s":"cx90","t":-0.319,"v":0},{"s":"cx90","t":-0.3,"v":1.2},{"s":"cx90","t":-0.282,"v":2.3},{"s":"cx90","t":-0.263,"v":3.4},{"s":"cx90","t":-0.245,"v":4.6},{"s":"cx90","t":-0.227,"v":5.4},{"s":"cx90","t":-0.208,"v":6.3},{"s":"cx90","t":-0.19,"v":7.6},{"s":"cx90","t":-0.171,"v":9},{"s":"cx90","t":-0.153,"v":10.2},{"s":"cx90","t":-0.135,"v":11.4},{"s":"cx90","t":-0.122,"v":12.2},{"s":"cx90","t":-0.11,"v":12.7},{"s":"cx90","t":-0.097,"v":12.3},{"s":"cx90","t":-0.083,"v":11.4},{"s":"cx90","t":-0.07,"v":10.2},{"s":"cx90","t":-0.058,"v":8.6},{"s":"cx90","t":-0.047,"v":6.8},{"s":"cx90","t":-0.04,"v":5.1},{"s":"cx90","t":-0.033,"v":3.4},{"s":"cx90","t":-0.027,"v":1.6},{"s":"cx90","t":-0.022,"v":0},{"s":"cx90","t":0,"v":-15},{"s":"cx90","t":0.018,"v":0},{"s":"cx90","t":0.023,"v":2.5},{"s":"cx90","t":0.028,"v":4.5},{"s":"cx90","t":0.034,"v":6.8},{"s":"cx90","t":0.042,"v":8.8},{"s":"cx90","t":0.05,"v":10.2},{"s":"cx90","t":0.062,"v":11.6},{"s":"cx90","t":0.075,"v":12.4},{"s":"cx90","t":0.09,"v":12.7},{"s":"cx90","t":0.105,"v":12.6},{"s":"cx90","t":0.12,"v":11.9},{"s":"cx90","t":0.142,"v":10.3},{"s":"cx90","t":0.165,"v":8.5},{"s":"cx90","t":0.188,"v":6.8},{"s":"cx90","t":0.21,"v":5.3},{"s":"cx90","t":0.234,"v":4},{"s":"cx90","t":0.257,"v":2.8},{"s":"cx90","t":0.28,"v":1.7},{"s":"cx90","t":0.3,"v":0.8},{"s":"cx90","t":0.317,"v":0},{"s":"cx90","t":0.325,"v":-1}
],
"dm": [{"t":-0.05,"v":58.2},{"t":0.145,"v":25.654},{"t":-0.11,"v":12.698}],
"dl": [{"t":-0.042,"v":54.2,"label":"-0.05 deg,58.200298 dB"},{"t":-0.19,"v":29.2,"label":"0.145 deg,25.654492 dB"},{"t":-0.098,"v":16.5,"label":"-0.11 deg,12.697675 dB"}]
},
"concat": [
{
"vconcat": [
{
"title": {"text": "(a) At focus", "orient": "bottom", "font": "Open Sans", "fontSize": 21, "fontWeight": "normal", "offset": 12, "frame": "group", "anchor": "middle", "dx": 152},
"vconcat": [{
"title": {"text": ["Job_02 → dual_cut → Radiation", "Pattern"], "offset": 0},
"width": 290, "height": 203,
"encoding": {
"x": {"field": "t", "type": "quantitative", "scale": {"domain": [-0.4, 0.4], "nice": false, "zero": false}, "axis": {"title": "θ [deg]", "values": [-0.4,-0.38,-0.36,-0.34,-0.32,-0.3,-0.28,-0.26,-0.24,-0.22,-0.2,-0.18,-0.16,-0.14,-0.12,-0.1,-0.08,-0.06,-0.04,-0.02,0,0.02,0.04,0.06,0.08,0.1,0.12,0.14,0.16,0.18,0.2,0.22,0.24,0.26,0.28,0.3,0.32,0.34,0.36,0.38,0.4], "labelExpr": "abs(datum.value*10-round(datum.value*10))<0.001 ? replace(format(round(datum.value*10)/10,'.1f'),'−','-') : ''", "tickSize": {"condition": {"test": "abs(datum.value*10-round(datum.value*10))<0.001", "value": 5}, "value": 3}, "gridOpacity": {"condition": {"test": "abs(datum.value*10-round(datum.value*10))<0.001", "value": 1}, "value": 0}}},
"y": {"field": "v", "type": "quantitative", "scale": {"domain": [10, 70], "nice": false, "zero": false}, "axis": {"title": "Amplitude [dB]", "values": [10,12,14,16,18,20,22,24,26,28,30,32,34,36,38,40,42,44,46,48,50,52,54,56,58,60,62,64,66,68,70], "labelExpr": "datum.value % 10 === 0 ? format(datum.value,'.1f') : ''", "tickSize": {"condition": {"test": "datum.value % 10 === 0", "value": 5}, "value": 3}, "gridOpacity": {"condition": {"test": "datum.value % 10 === 0", "value": 1}, "value": 0}}}
},
"layer": [
{"data": {"name": "a"}, "mark": {"type": "line", "clip": true, "strokeWidth": 1.6}, "encoding": {"color": {"field": "s", "type": "nominal", "scale": {"domain": ["co0","co45","co90","cx0","cx45","cx90"], "range": ["#000000","#ff0000","#22dd22","#0000ff","#dd22dd","#33dde8"]}, "legend": {"title": null, "orient": "none", "legendX": 384, "legendY": 228, "labelExpr": "datum.value=='co0'?'15.5 GHz → E_co → 0.0':datum.value=='co45'?'15.5 GHz → E_co → 45.0':datum.value=='co90'?'15.5 GHz → E_co → 90.0':datum.value=='cx0'?'15.5 GHz → E_cx → 0.0':datum.value=='cx45'?'15.5 GHz → E_cx → 45.0':'15.5 GHz → E_cx → 90.0'"}}}},
{"data": {"name": "am"}, "mark": {"type": "point", "shape": "M-1,-1L1,1M-1,1L1,-1", "size": 60, "filled": false, "stroke": "#222222", "strokeWidth": 1.4, "opacity": 1}},
{"data": {"name": "al"}, "mark": {"type": "text", "align": "left", "baseline": "middle", "font": "Liberation Sans", "fontSize": 10.5, "color": "#555555"}, "encoding": {"text": {"field": "label"}}}
]
}]
},
{
"title": {"text": "(c) Xf = 7.5 cm", "orient": "bottom", "font": "Open Sans", "fontSize": 21, "fontWeight": "normal", "offset": 22, "frame": "group", "anchor": "middle", "dx": 128},
"vconcat": [{
"title": {"text": ["Job_17 → dual_cut → Radiation", "Pattern"]},
"width": 298, "height": 204,
"encoding": {
"x": {"field": "t", "type": "quantitative", "scale": {"domain": [-0.042, 0.731], "nice": false, "zero": false}, "axis": {"title": "θ [deg]", "values": [-0.04,-0.02,0,0.02,0.04,0.06,0.08,0.1,0.12,0.14,0.16,0.18,0.2,0.22,0.24,0.26,0.28,0.3,0.32,0.34,0.36,0.38,0.4,0.42,0.44,0.46,0.48,0.5,0.52,0.54,0.56,0.58,0.6,0.62,0.64,0.66,0.68,0.7,0.72], "labelExpr": "abs(datum.value*10-round(datum.value*10))<0.001 ? replace(format(round(datum.value*10)/10,'.1f'),'−','-') : ''", "tickSize": {"condition": {"test": "abs(datum.value*10-round(datum.value*10))<0.001", "value": 5}, "value": 3}, "gridOpacity": {"condition": {"test": "abs(datum.value*10-round(datum.value*10))<0.001", "value": 1}, "value": 0}}},
"y": {"field": "v", "type": "quantitative", "scale": {"domain": [10, 70], "nice": false, "zero": false}, "axis": {"title": "Amplitude [dB]", "values": [10,12,14,16,18,20,22,24,26,28,30,32,34,36,38,40,42,44,46,48,50,52,54,56,58,60,62,64,66,68,70], "labelExpr": "datum.value % 10 === 0 ? format(datum.value,'.1f') : ''", "tickSize": {"condition": {"test": "datum.value % 10 === 0", "value": 5}, "value": 3}, "gridOpacity": {"condition": {"test": "datum.value % 10 === 0", "value": 1}, "value": 0}}}
},
"layer": [
{"data": {"name": "c"}, "mark": {"type": "line", "clip": true, "strokeWidth": 1.6}, "encoding": {"color": {"field": "s", "type": "nominal", "scale": {"domain": ["co0","co45","co90","cx0","cx45","cx90"], "range": ["#000000","#ff0000","#22dd22","#0000ff","#dd22dd","#33dde8"]}, "legend": {"title": null, "orient": "none", "legendX": 384, "legendY": 228, "labelExpr": "datum.value=='co0'?'15.5 GHz → E_co → 0.0':datum.value=='co45'?'15.5 GHz → E_co → 45.0':datum.value=='co90'?'15.5 GHz → E_co → 90.0':datum.value=='cx0'?'15.5 GHz → E_cx → 0.0':datum.value=='cx45'?'15.5 GHz → E_cx → 45.0':'15.5 GHz → E_cx → 90.0'"}}}},
{"data": {"name": "cm"}, "mark": {"type": "point", "shape": "M-1,-1L1,1M-1,1L1,-1", "size": 60, "filled": false, "stroke": "#222222", "strokeWidth": 1.4, "opacity": 1}},
{"data": {"name": "cl"}, "mark": {"type": "text", "align": "left", "baseline": "middle", "font": "Liberation Sans", "fontSize": 10.5, "color": "#555555"}, "encoding": {"text": {"field": "label"}}}
]
}]
}
],
"spacing": 18,
"resolve": {"scale": {"color": "shared"}, "legend": {"color": "shared"}}
},
{
"vconcat": [
{
"title": {"text": "(b) Yf = 7.5 cm", "orient": "bottom", "font": "Open Sans", "fontSize": 21, "fontWeight": "normal", "offset": 14, "frame": "group", "anchor": "middle", "dx": 138},
"vconcat": [{
"title": {"text": ["Job_14 → dual_cut → Radiation", "Pattern"], "offset": 5},
"width": 297, "height": 203,
"encoding": {
"x": {"field": "t", "type": "quantitative", "scale": {"domain": [-0.718, 0.049], "nice": false, "zero": false}, "axis": {"title": "θ [deg]", "values": [-0.7,-0.68,-0.66,-0.64,-0.62,-0.6,-0.58,-0.56,-0.54,-0.52,-0.5,-0.48,-0.46,-0.44,-0.42,-0.4,-0.38,-0.36,-0.34,-0.32,-0.3,-0.28,-0.26,-0.24,-0.22,-0.2,-0.18,-0.16,-0.14,-0.12,-0.1,-0.08,-0.06,-0.04,-0.02,0,0.02,0.04], "labelExpr": "abs(datum.value*10-round(datum.value*10))<0.001 ? replace(format(round(datum.value*10)/10,'.1f'),'−','-') : ''", "tickSize": {"condition": {"test": "abs(datum.value*10-round(datum.value*10))<0.001", "value": 5}, "value": 3}, "gridOpacity": {"condition": {"test": "abs(datum.value*10-round(datum.value*10))<0.001", "value": 1}, "value": 0}}},
"y": {"field": "v", "type": "quantitative", "scale": {"domain": [10, 70], "nice": false, "zero": false}, "axis": {"title": "Amplitude [dB]", "values": [10,12,14,16,18,20,22,24,26,28,30,32,34,36,38,40,42,44,46,48,50,52,54,56,58,60,62,64,66,68,70], "labelExpr": "datum.value % 10 === 0 ? format(datum.value,'.1f') : ''", "tickSize": {"condition": {"test": "datum.value % 10 === 0", "value": 5}, "value": 3}, "gridOpacity": {"condition": {"test": "datum.value % 10 === 0", "value": 1}, "value": 0}}}
},
"layer": [
{"data": {"name": "b"}, "mark": {"type": "line", "clip": true, "strokeWidth": 1.6}, "encoding": {"color": {"field": "s", "type": "nominal", "scale": {"domain": ["co0","co45","co90","cx0","cx45","cx90"], "range": ["#000000","#ff0000","#22dd22","#0000ff","#dd22dd","#33dde8"]}, "legend": {"title": null, "orient": "none", "legendX": 384, "legendY": 228, "labelExpr": "datum.value=='co0'?'15.5 GHz → E_co → 0.0':datum.value=='co45'?'15.5 GHz → E_co → 45.0':datum.value=='co90'?'15.5 GHz → E_co → 90.0':datum.value=='cx0'?'15.5 GHz → E_cx → 0.0':datum.value=='cx45'?'15.5 GHz → E_cx → 45.0':'15.5 GHz → E_cx → 90.0'"}}}},
{"data": {"name": "bm"}, "mark": {"type": "point", "shape": "M-1,-1L1,1M-1,1L1,-1", "size": 60, "filled": false, "stroke": "#222222", "strokeWidth": 1.4, "opacity": 1}},
{"data": {"name": "bl"}, "mark": {"type": "text", "align": "left", "baseline": "middle", "font": "Liberation Sans", "fontSize": 10.5, "color": "#555555"}, "encoding": {"text": {"field": "label"}}}
]
}]
},
{
"title": {"text": "(d) Zf = 7.5 cm", "orient": "bottom", "font": "Open Sans", "fontSize": 21, "fontWeight": "normal", "offset": 20, "frame": "group", "anchor": "middle", "dx": 143},
"vconcat": [{
"title": {"text": ["Job_23 → dual_cut → Radiation", "Pattern"]},
"width": 289, "height": 202,
"encoding": {
"x": {"field": "t", "type": "quantitative", "scale": {"domain": [-0.4, 0.4], "nice": false, "zero": false}, "axis": {"title": "θ [deg]", "values": [-0.4,-0.38,-0.36,-0.34,-0.32,-0.3,-0.28,-0.26,-0.24,-0.22,-0.2,-0.18,-0.16,-0.14,-0.12,-0.1,-0.08,-0.06,-0.04,-0.02,0,0.02,0.04,0.06,0.08,0.1,0.12,0.14,0.16,0.18,0.2,0.22,0.24,0.26,0.28,0.3,0.32,0.34,0.36,0.38,0.4], "labelExpr": "abs(datum.value*10-round(datum.value*10))<0.001 ? replace(format(round(datum.value*10)/10,'.1f'),'−','-') : ''", "tickSize": {"condition": {"test": "abs(datum.value*10-round(datum.value*10))<0.001", "value": 5}, "value": 3}, "gridOpacity": {"condition": {"test": "abs(datum.value*10-round(datum.value*10))<0.001", "value": 1}, "value": 0}}},
"y": {"field": "v", "type": "quantitative", "scale": {"domain": [0, 70], "nice": false, "zero": false}, "axis": {"title": "Amplitude [dB]", "values": [0,2,4,6,8,10,12,14,16,18,20,22,24,26,28,30,32,34,36,38,40,42,44,46,48,50,52,54,56,58,60,62,64,66,68,70], "labelExpr": "datum.value % 10 === 0 ? format(datum.value,'.1f') : ''", "tickSize": {"condition": {"test": "datum.value % 10 === 0", "value": 5}, "value": 3}, "gridOpacity": {"condition": {"test": "datum.value % 10 === 0", "value": 1}, "value": 0}}}
},
"layer": [
{"data": {"name": "d"}, "mark": {"type": "line", "clip": true, "strokeWidth": 1.6}, "encoding": {"color": {"field": "s", "type": "nominal", "scale": {"domain": ["co0","co45","co90","cx0","cx45","cx90"], "range": ["#000000","#ff0000","#22dd22","#0000ff","#dd22dd","#33dde8"]}, "legend": {"title": null, "orient": "none", "legendX": 384, "legendY": 228, "labelExpr": "datum.value=='co0'?'15.5 GHz → E_co → 0.0':datum.value=='co45'?'15.5 GHz → E_co → 45.0':datum.value=='co90'?'15.5 GHz → E_co → 90.0':datum.value=='cx0'?'15.5 GHz → E_cx → 0.0':datum.value=='cx45'?'15.5 GHz → E_cx → 45.0':'15.5 GHz → E_cx → 90.0'"}}}},
{"data": {"name": "dm"}, "mark": {"type": "point", "shape": "M-1,-1L1,1M-1,1L1,-1", "size": 60, "filled": false, "stroke": "#222222", "strokeWidth": 1.4, "opacity": 1}},
{"data": {"name": "dl"}, "mark": {"type": "text", "align": "left", "baseline": "middle", "font": "Liberation Sans", "fontSize": 10.5, "color": "#555555"}, "encoding": {"text": {"field": "label"}}}
]
}]
}
],
"spacing": 17,
"resolve": {"scale": {"color": "shared"}, "legend": {"color": "shared"}}
}
],
"columns": 2,
"align": "none",
"spacing": 335,
"resolve": {"scale": {"color": "shared"}, "legend": {"color": "shared"}},
"config": {
"font": "DejaVu Sans",
"view": {"stroke": "#c8c8c8", "strokeWidth": 1},
"title": {"font": "DejaVu Sans", "fontSize": 17, "fontWeight": "bold", "color": "#111111", "lineHeight": 22, "offset": 3, "frame": "group", "anchor": "middle"},
"axis": {"labelFont": "DejaVu Sans", "labelFontSize": 13, "labelColor": "#333333", "titleFont": "DejaVu Sans", "titleFontSize": 13, "titleFontWeight": "bold", "titleColor": "#111111", "gridColor": "#d9d9d9", "domainColor": "#666666", "tickColor": "#666666", "labelOverlap": false, "labelFlush": false},
"legend": {"symbolType": "square", "symbolSize": 16, "symbolStrokeWidth": 2, "labelFont": "DejaVu Sans", "labelFontSize": 13.5, "labelColor": "#222222", "rowPadding": 7, "labelOffset": 0, "labelLimit": 220}
}
}
